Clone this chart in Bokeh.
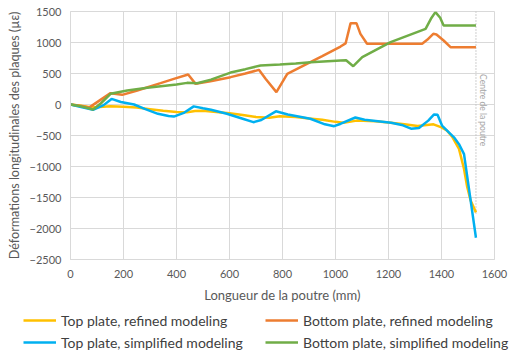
import math
from bokeh.plotting import figure
from bokeh.layouts import column
from bokeh.models import Legend, LegendItem, Label, Range1d, FixedTicker
from bokeh.embed import file_html
from bokeh.resources import INLINE

# Strain along the beam (µε) vs. position (mm)
top_refined_x = [0, 40, 75, 110, 150, 200, 250, 300, 350, 400, 440, 470, 500, 550, 600, 650, 700,
                 750, 790, 850, 900, 950, 1000, 1030, 1080, 1150, 1200, 1260, 1310, 1370, 1400,
                 1420, 1440, 1466, 1485, 1497, 1510, 1530]
top_refined_y = [0, -20, -45, -40, -30, -35, -50, -75, -100, -120, -125, -105, -100, -120, -140,
                 -170, -200, -215, -190, -200, -225, -245, -280, -295, -260, -270, -290, -320,
                 -345, -320, -370, -420, -520, -715, -1040, -1330, -1550, -1740]

top_simplified_x = [0, 40, 85, 125, 155, 190, 240, 280, 330, 370, 390, 430, 465, 500, 530, 590, 650,
                    690, 720, 775, 820, 905, 960, 995, 1020, 1075, 1110, 1210, 1250, 1285, 1315,
                    1350, 1372, 1385, 1402, 1447, 1466, 1485, 1530]
top_simplified_y = [0, -40, -85, -10, 90, 40, 0, -70, -150, -185, -195, -130, -30, -60, -85, -150,
                    -230, -285, -250, -110, -160, -230, -320, -350, -310, -210, -245, -295, -330,
                    -390, -380, -260, -160, -165, -340, -530, -640, -800, -2150]

bottom_refined_x = [0, 35, 70, 113, 151, 195, 252, 340, 390, 444, 472, 528, 604, 660, 711, 736, 777,
                    818, 868, 950, 1019, 1038, 1057, 1079, 1094, 1119, 1200, 1327, 1346, 1369, 1381,
                    1408, 1434, 1530]
bottom_refined_y = [0, -20, -50, 75, 183, 156, 226, 344, 414, 484, 333, 376, 441, 500, 559, 414, 199,
                    494, 602, 780, 935, 985, 1312, 1312, 1140, 979, 979, 979, 1043, 1140, 1130,
                    1032, 925, 925]

bottom_simplified_x = [0, 40, 85, 115, 151, 214, 290, 400, 440, 478, 530, 604, 660, 717, 790, 850,
                       906, 1019, 1040, 1067, 1101, 1208, 1340, 1360, 1377, 1395, 1408, 1530]
bottom_simplified_y = [0, -30, -80, 20, 172, 226, 269, 323, 349, 344, 400, 515, 570, 629, 645, 660,
                       683, 710, 715, 618, 763, 1005, 1221, 1382, 1490, 1400, 1274, 1274]

x_ticks = [0, 200, 400, 600, 800, 1000, 1200, 1400, 1600]
y_ticks = [-2500, -2000, -1500, -1000, -500, 0, 500, 1000, 1500]

centre_x = 1530
centre_line_y = [1500, -1760]

FONT = "Lato"
GRID = "#d9d9d9"
AXIS_TEXT = "#595959"
LW = 2.5

COLORS = {
    "top_ref": "#FFC000",
    "bot_ref": "#ED7D31",
    "top_simp": "#00B0F0",
    "bot_simp": "#70AD47",
}
LABELS = {
    "top_ref": "Top plate, refined modeling",
    "top_simp": "Top plate, simplified modeling",
    "bot_ref": "Bottom plate, refined modeling",
    "bot_simp": "Bottom plate, simplified modeling",
}

p = figure(width=532, height=307, output_backend="svg", toolbar_location=None,
           x_range=Range1d(0, 1600), y_range=Range1d(-2500, 1500))
p.frame_align = False
p.min_border_left = 70
p.min_border_right = 38
p.min_border_top = 11
p.min_border_bottom = 48
p.background_fill_color = "white"
p.border_fill_color = "white"
p.outline_line_color = GRID

p.xaxis.ticker = FixedTicker(ticks=x_ticks)
p.yaxis.ticker = FixedTicker(ticks=y_ticks)
p.xgrid.ticker = FixedTicker(ticks=x_ticks)
p.ygrid.ticker = FixedTicker(ticks=y_ticks)
p.grid.grid_line_color = GRID
p.grid.grid_line_width = 1

for ax in (p.xaxis, p.yaxis):
    ax.axis_line_color = GRID
    ax.major_tick_line_color = None
    ax.minor_tick_line_color = None
    ax.major_tick_out = 0
    ax.major_tick_in = 0
    ax.major_label_text_font = FONT
    ax.major_label_text_font_size = "11px"
    ax.major_label_text_color = AXIS_TEXT
    ax.axis_label_text_font = FONT
    ax.axis_label_text_font_style = "normal"
    ax.axis_label_text_color = AXIS_TEXT

p.xaxis.axis_label = "Longueur de la poutre (mm)"
p.yaxis.axis_label = "Déformations longitudinales des plaques (µε)"
p.xaxis.axis_label_text_font_size = "13px"
p.yaxis.axis_label_text_font_size = "12.6px"
p.xaxis.major_label_standoff = 10
p.xaxis.axis_label_standoff = 6
p.yaxis.major_label_standoff = 9
p.yaxis.axis_label_standoff = 5

# beam centre marker
p.line(x=[centre_x, centre_x], y=centre_line_y, line_color="#bfbfbf", line_width=1.5,
       line_dash="1 2")
p.add_layout(Label(x=1555, y=490, text="Centre de la poutre", angle=-math.pi / 2,
                   text_align="left", text_baseline="middle", text_font=FONT,
                   text_font_size="8.5px", text_color="#a6a6a6"))

p.line(top_refined_x, top_refined_y, line_color=COLORS["top_ref"], line_width=LW)
p.line(bottom_refined_x, bottom_refined_y, line_color=COLORS["bot_ref"], line_width=LW)
p.line(top_simplified_x, top_simplified_y, line_color=COLORS["top_simp"], line_width=LW)
p.line(bottom_simplified_x, bottom_simplified_y, line_color=COLORS["bot_simp"], line_width=LW)

# legend strip under the chart
lf = figure(width=532, height=44, output_backend="svg", toolbar_location=None,
            x_axis_type=None, y_axis_type=None, x_range=Range1d(0, 1), y_range=Range1d(0, 1))
lf.frame_align = False
lf.min_border_left = 0
lf.min_border_right = 0
lf.min_border_top = 0
lf.min_border_bottom = 0
lf.outline_line_color = None
lf.grid.visible = False

# one off-range point per swatch so the legend glyphs get their colours
swatch = {k: lf.line(x=[-1], y=[-1], line_color=c, line_width=LW) for k, c in COLORS.items()}


def make_legend(keys, loc):
    lg = Legend(items=[LegendItem(label=LABELS[k], renderers=[swatch[k]]) for k in keys],
                location=loc, orientation="vertical")
    lg.border_line_color = None
    lg.background_fill_alpha = 0
    lg.padding = 0
    lg.margin = 0
    lg.spacing = 4
    lg.glyph_width = 33
    lg.glyph_height = 18
    lg.label_height = 18
    lg.label_standoff = 5
    lg.label_text_font = FONT
    lg.label_text_font_size = "14px"
    lg.label_text_color = "#404040"
    return lg


lf.add_layout(make_legend(["top_ref", "top_simp"], (23, 0)))
lf.add_layout(make_legend(["bot_ref", "bot_simp"], (265, 0)))

layout = column(p, lf, spacing=0)
open("out.html", "w").write(file_html(layout, INLINE))
